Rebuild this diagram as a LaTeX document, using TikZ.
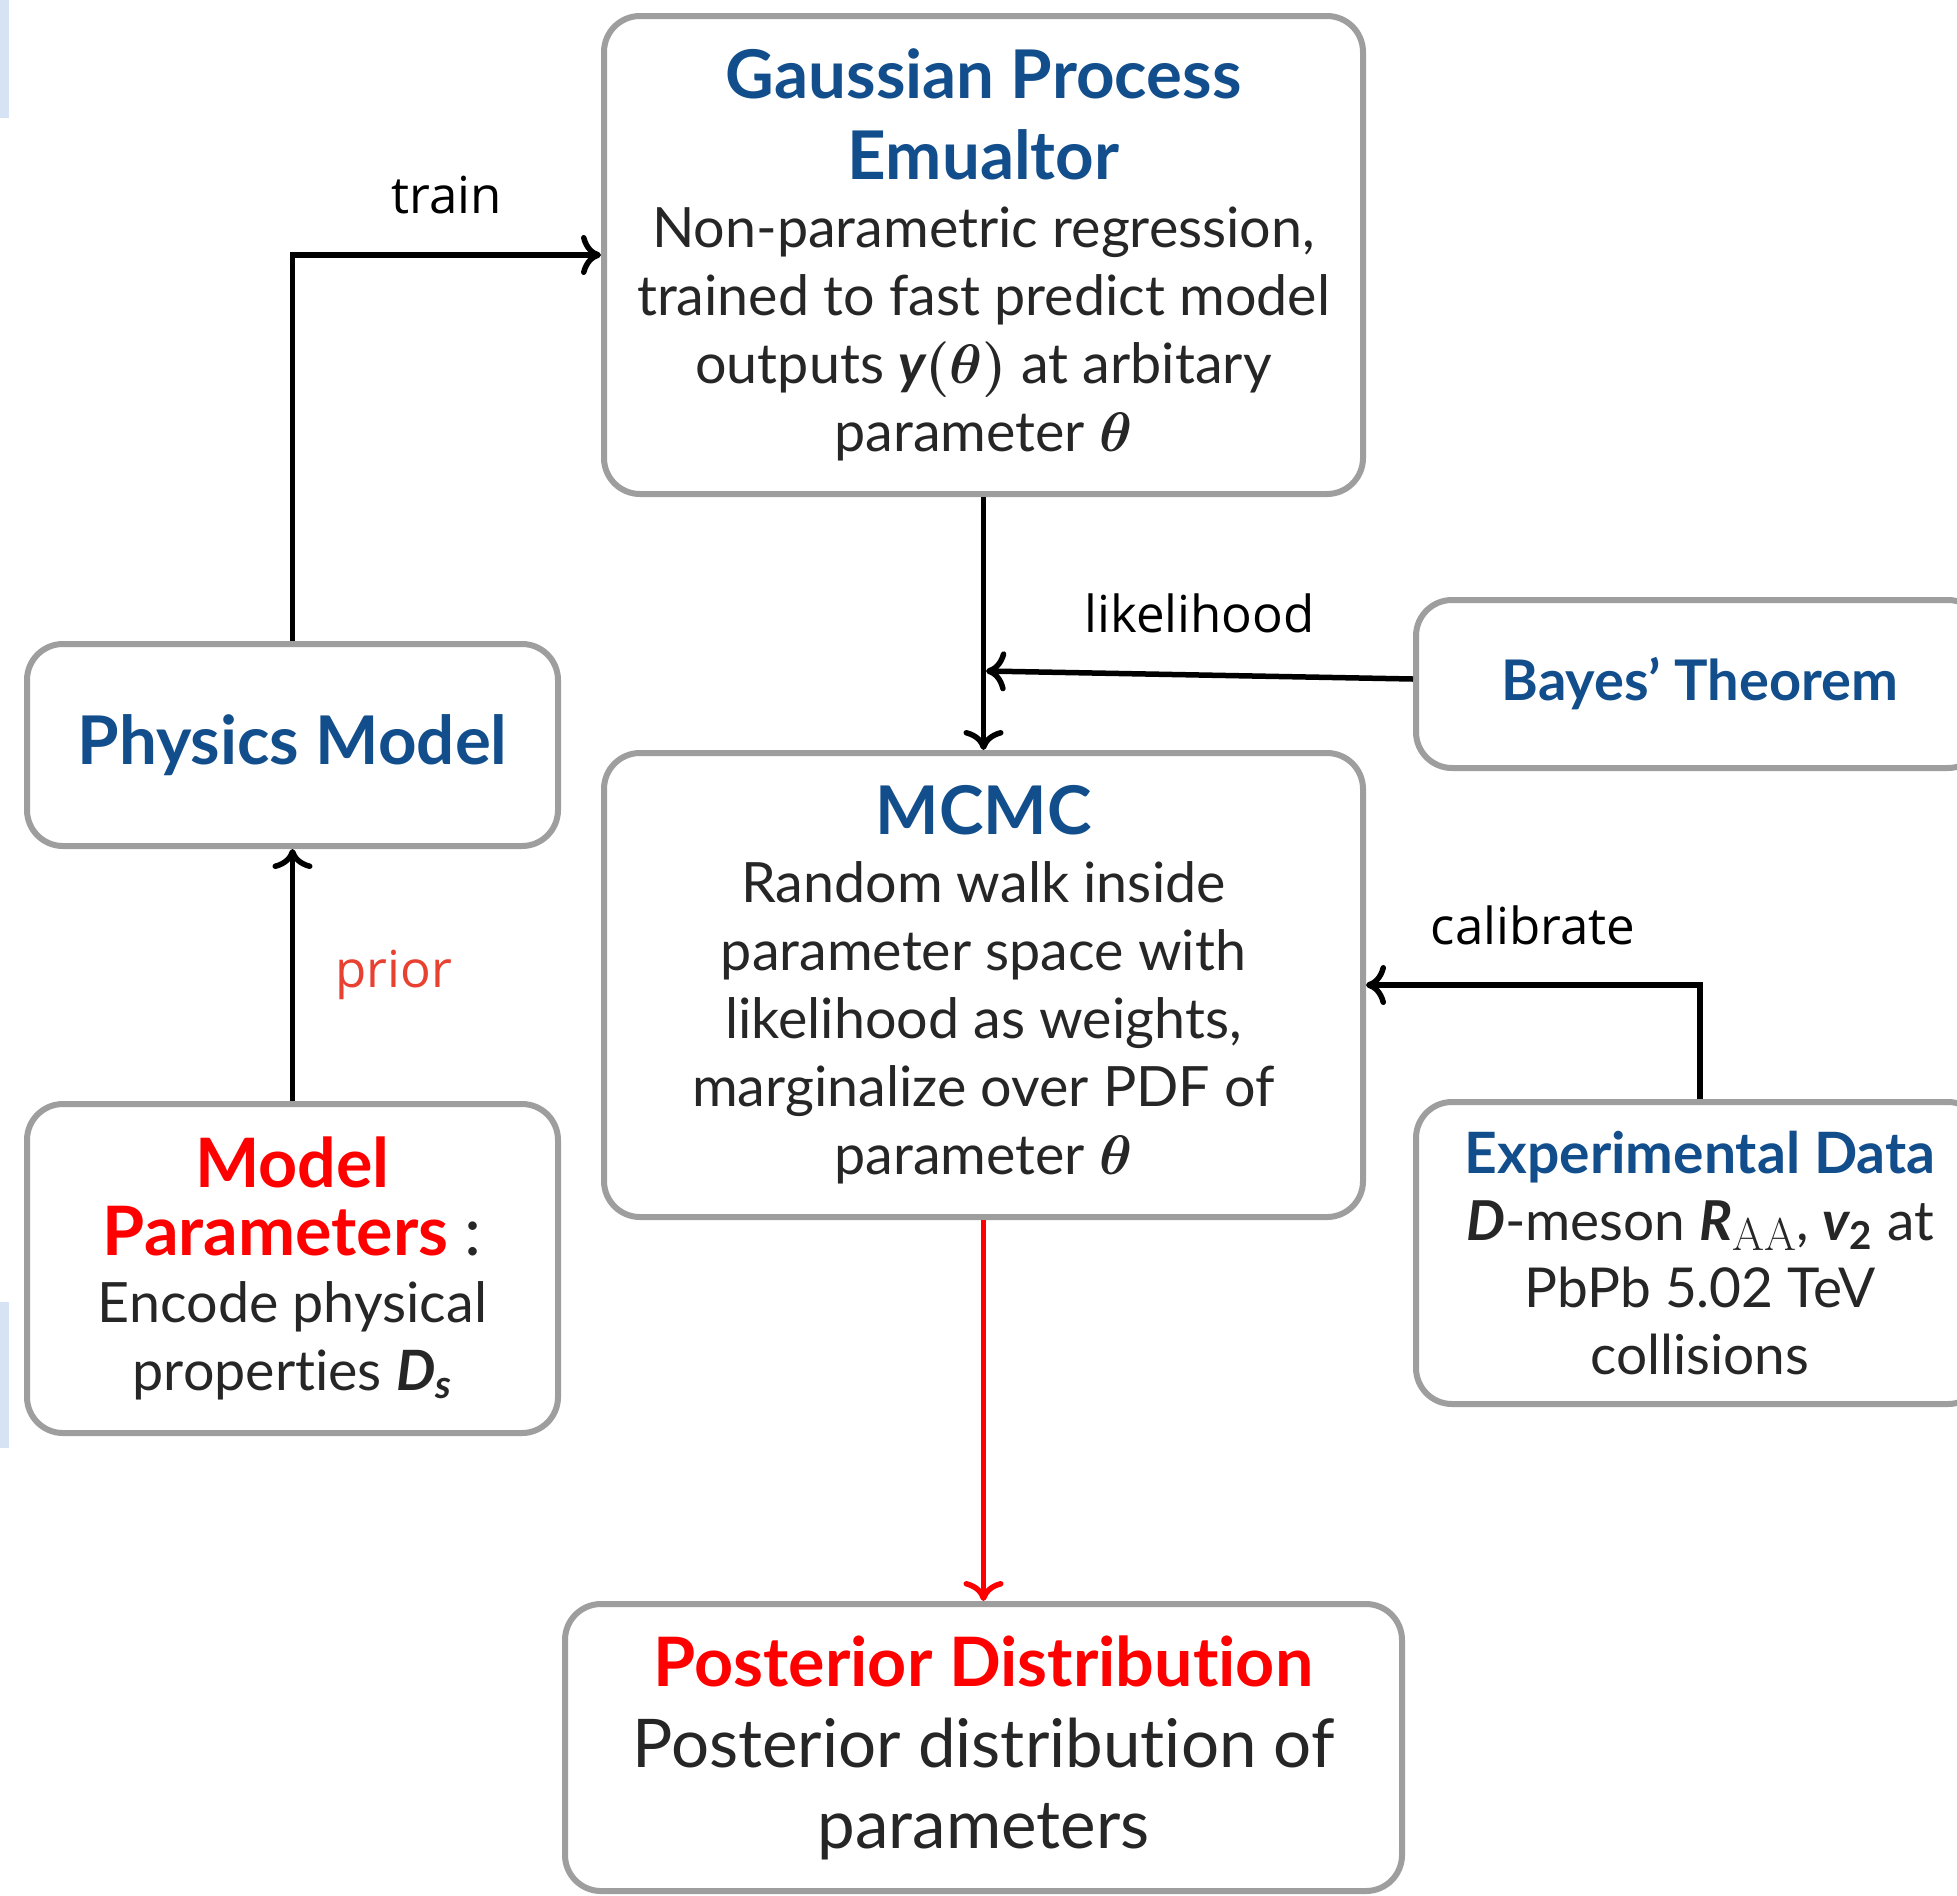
\RequirePackage{fix-cm}
\documentclass[tikz,border=0pt]{standalone}
\usepackage{amsmath}
\usepackage[no-math]{fontspec}
\setmainfont{Lato}[Ligatures={NoCommon}]
\newfontfamily\lblfont{Open Sans}
\usetikzlibrary{arrows.meta}
\definecolor{tblue}{RGB}{18,78,140}
\definecolor{tred}{RGB}{255,0,0}
\definecolor{pcol}{RGB}{232,65,50}
\definecolor{txt}{RGB}{38,38,38}
\definecolor{bgray}{RGB}{158,158,158}
\definecolor{lbar}{RGB}{213,227,245}
\newcommand\ttlB{\normalfont\fontsize{33.6}{40.5}\selectfont\bfseries\color{tblue}}
\newcommand\ttlR{\normalfont\fontsize{34.1}{33.5}\selectfont\bfseries\color{tred}}
\newcommand\ttlE{\normalfont\fontsize{28.5}{33.5}\selectfont\bfseries\color{tblue}}
\newcommand\bdy{\normalfont\fontsize{27.8}{34}\selectfont\color{txt}}
\newcommand\bdyE{\normalfont\fontsize{27.5}{33.5}\selectfont\color{txt}}
\newcommand\bdyP{\normalfont\fontsize{33.6}{40.5}\selectfont\color{txt}}
\newcommand\bi[1]{{\bfseries\itshape #1}}
\newcommand\subAA{\raisebox{-5pt}{\fontfamily{lmr}\fontsize{23}{23}\selectfont AA}}
\begin{document}
\begin{tikzpicture}[x=0.5pt,y=-0.5pt,
  box/.style={draw=bgray, line width=3pt, rounded corners=18pt, fill=white, align=center, inner sep=0pt},
  arr/.style={line width=2.75pt, -{Computer Modern Rightarrow[length=10pt,width=20pt]}},
  lbl/.style={font={\lblfont\fontsize{25.5}{30}\selectfont}, inner sep=0pt, text=black}]
\useasboundingbox (0,0) rectangle (1957,1895);
\fill[lbar] (0,0) rectangle (9,118);
\fill[lbar] (0,1302) rectangle (9,1448);

\node[box, minimum width=379.5pt, minimum height=239pt, font=\fontsize{27.8}{34}\selectfont] (gp) at (983.5,255)
  {\ttlB Gaussian Process\\[6.5pt]\ttlB Emualtor\\\bdy Non-parametric regression,\\\bdy trained to fast predict model\\\bdy outputs \bi{y}$\boldsymbol{(\theta)}$ at arbitary\\\bdy parameter $\boldsymbol{\theta}$};
\node[box, minimum width=265.5pt, minimum height=101pt] (pm) at (292.5,745)
  {\ttlB Physics Model};
\node[box, minimum width=265.5pt, minimum height=164.5pt, font=\fontsize{27.8}{33.7}\selectfont] (mp) at (292.5,1268.5)
  {\ttlR Model\\\ttlR Parameters {\mdseries\color{txt}:}\\\bdy Encode physical\\\bdy properties \bi{D\textsubscript{s}}};
\node[box, minimum width=379.5pt, minimum height=232pt, font=\fontsize{27.8}{34}\selectfont] (mcmc) at (983.5,985)
  {\ttlB MCMC\\\bdy Random walk inside\\\bdy parameter space with\\\bdy likelihood as weights,\\\bdy marginalize over PDF of\\\bdy parameter $\boldsymbol{\theta}$};
\node[box, minimum width=284pt, minimum height=84pt] (bayes) at (1700,684)
  {\normalfont\fontsize{28}{34}\selectfont\bfseries\color{tblue}Bayes’ Theorem};
\node[box, minimum width=284pt, minimum height=151pt, font=\fontsize{27.5}{33.5}\selectfont] (exp) at (1700,1253)
  {\ttlE Experimental Data\\\bdyE \bi{D}-meson \bi{R}\subAA, \bi{v}\textsubscript{\bfseries 2} at\\\bdyE PbPb 5.02 TeV\\\bdyE collisions};
\node[box, minimum width=418.5pt, minimum height=143.5pt, font=\fontsize{33.6}{40.5}\selectfont] (post) at (983.5,1747.5)
  {{\normalfont\fontsize{34.1}{40.5}\selectfont\bfseries\color{tred}Posterior Distribution}\\\bdyP Posterior distribution of\\\bdyP parameters};

\coordinate (lk) at (986,671);
\draw[arr] (pm.north) |- (gp.west) node[lbl, pos=0.75, yshift=30pt] {train};
\draw[arr] (gp.south) -- (mcmc.north);
\draw[arr] ([yshift=2.5pt]bayes.west) -- (lk) node[lbl, midway, yshift=31pt] {likelihood};
\draw[arr] (mp.north) -- (pm.south) node[lbl, midway, anchor=west, xshift=20pt, text=pcol] {prior};
\draw[arr] (exp.north) |- (mcmc.east) node[lbl, pos=0.75, yshift=30pt] {calibrate};
\draw[arr, draw=tred] (mcmc.south) -- (post.north);
\end{tikzpicture}
\end{document}
